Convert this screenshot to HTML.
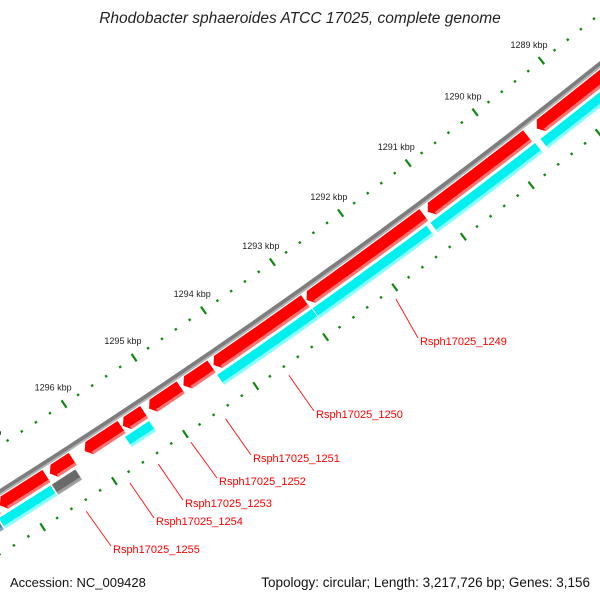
<!DOCTYPE html>
<html><head><meta charset="utf-8"><style>
html,body{margin:0;padding:0;background:#fff;}
svg{display:block;font-family:"Liberation Sans",sans-serif;}
</style></head><body>
<svg id="map" width="600" height="600" viewBox="0 0 600 600" xmlns="http://www.w3.org/2000/svg">
<rect width="600" height="600" fill="#fff"/>
<g id="ticks"></g>
<g id="backbone"></g>
<g id="features"></g>
<g id="labels"></g>
<text x="300" y="23" text-anchor="middle" font-size="15.5" font-style="italic" fill="#222">Rhodobacter sphaeroides ATCC 17025, complete genome</text>
<text x="10" y="587" font-size="13" fill="#111">Accession: NC_009428</text>
<text x="590" y="587" text-anchor="end" font-size="13.5" fill="#111">Topology: circular; Length: 3,217,726 bp; Genes: 3,156</text>
</svg>
<script>
const majorTicks=[1288,1289,1290,1291,1292,1293,1294,1295,1296,1297,1298];
const tickLabels=["1288 kbp","1289 kbp","1290 kbp","1291 kbp","1292 kbp","1293 kbp","1294 kbp","1295 kbp","1296 kbp","1297 kbp","1298 kbp"];
const fwdStart=[1288.3,1289.68,1291.22,1292.95,1294.30,1294.74,1295.26,1295.58,1296.27,1296.64,1297.33];
const fwdEnd=[1289.54,1291.16,1292.93,1294.27,1294.70,1295.19,1295.56,1296.10,1296.59,1297.29,1298.2];
const revStart=[1288.3,1289.66,1291.27,1292.94,1295.27,1296.31,1296.66,1297.40];
const revEnd=[1289.58,1291.21,1292.93,1294.30,1295.61,1296.64,1297.38,1298.2];
const revType=["cds","cds","cds","cds","cds","other","cds","rna"];
const labelNames=["Rsph17025_1249","Rsph17025_1250","Rsph17025_1251","Rsph17025_1252","Rsph17025_1253","Rsph17025_1254","Rsph17025_1255"];
const labelKbp=[1292.07,1293.61,1294.51,1295.0,1295.46,1295.86,1296.47];
const labelX=[420,316,253,219,185,156,113];
const labelY=[341,414,458,481,503,521,549];

const NS="http://www.w3.org/2000/svg";
const CX=-3517,CY=-5078;
function pt(k,r){const a=(54.64+(k-1293)*0.7353)*Math.PI/180;return [CX+r*Math.cos(a),CY+r*Math.sin(a)];}
function mk(tag,attrs,parent){const e=document.createElementNS(NS,tag);for(const k in attrs)e.setAttribute(k,attrs[k]);parent.appendChild(e);return e;}
function f(v){return v.toFixed(2);}
function arcD(k1,k2,r){const p=pt(k1,r),q=pt(k2,r);return `M${f(p[0])} ${f(p[1])} A${r} ${r} 0 0 1 ${f(q[0])} ${f(q[1])}`;}
function bandD(k1,k2,r1,r2){const a=pt(k1,r1),b=pt(k2,r1),c=pt(k2,r2),d=pt(k1,r2);
 return `M${f(a[0])} ${f(a[1])} A${r1} ${r1} 0 0 1 ${f(b[0])} ${f(b[1])} L${f(c[0])} ${f(c[1])} A${r2} ${r2} 0 0 0 ${f(d[0])} ${f(d[1])} Z`;}

const tg=document.getElementById('ticks');
const rings=[6548,6640];
for(let i=0;i<=50;i++){
  const k=1288+i*0.2;
  const major=(i%5===0);
  rings.forEach((R,ri)=>{
    const h=major?4.5:1.2;
    const p=pt(k,R-h),q=pt(k,R+h);
    const l=mk('line',{x1:f(p[0]),y1:f(p[1]),x2:f(q[0]),y2:f(q[1]),stroke:'#118811','stroke-width':major?2.2:2.4},tg);
    
    
  });
}
majorTicks.forEach((k,i)=>{
  const p=pt(k,6528);
  const t=mk('text',{x:f(p[0]),y:f(p[1]+3),'text-anchor':'middle','font-size':'9',fill:'#222'},tg);
  t.textContent=tickLabels[i];
  
  
});

const bg=document.getElementById('backbone');
const b1=mk('path',{d:arcD(1287.5,1298.5,6587.5),fill:'none',stroke:'#7d7d7d','stroke-width':5.5},bg);


const b2=mk('path',{d:arcD(1287.5,1298.5,6589.3),fill:'none',stroke:'#b5b5b5','stroke-width':1.6},bg);



const fg=document.getElementById('features');
const r1=6591.5,r2=6606,rm=(r1+r2)/2,hd=0.065;
fwdStart.forEach((s,i)=>{
  const e=fwdEnd[i];
  const a=pt(s,r1),b=pt(e-hd,r1),c=pt(e,rm),d=pt(e-hd,r2),g=pt(s,r2);
  const dd=`M${f(a[0])} ${f(a[1])} A${r1} ${r1} 0 0 1 ${f(b[0])} ${f(b[1])} L${f(c[0])} ${f(c[1])} L${f(d[0])} ${f(d[1])} A${r2} ${r2} 0 0 0 ${f(g[0])} ${f(g[1])} Z`;
  const p=mk('path',{d:dd,fill:'#ff0000'},fg);
  
  
  const hl=mk('path',{d:bandD(s,e-hd,r2-3,r2),fill:'#ff7373'},fg);
  
  
});
const q1=6609,q2=6621;
const revCol={cds:['#00f0f0','#8affff'],other:['#6a6a6a','#a0a0a0'],rna:['#4a7fb0','#7fa6cc']};
revStart.forEach((s,i)=>{
  const e=revEnd[i];const c=revCol[revType[i]];
  const p=mk('path',{d:bandD(s,e,q1,q2),fill:c[0]},fg);
  
  
  const hl=mk('path',{d:bandD(s,e,q2-3,q2),fill:c[1]},fg);
  
  
});

const lg=document.getElementById('labels');
labelNames.forEach((n,i)=>{
  const p=pt(labelKbp[i],6650);
  const l=mk('line',{x1:f(p[0]),y1:f(p[1]),x2:labelX[i]-2,y2:labelY[i]-3,stroke:'#ff2020','stroke-width':1},lg);
  
  
  const t=mk('text',{x:labelX[i],y:labelY[i]+4,'font-size':'11',fill:'#ff0000'},lg);
  t.textContent=n;
  
  
});
</script>
</body></html>
